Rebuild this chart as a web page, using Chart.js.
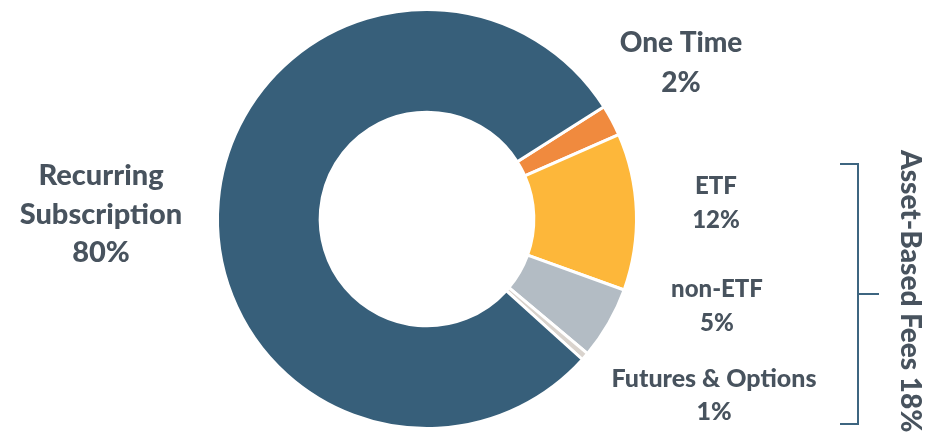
<!DOCTYPE html>
<html>
<head>
<meta charset="utf-8">
<script src="https://cdn.jsdelivr.net/npm/chart.js@4"></script>
<style>
  html, body { margin: 0; padding: 0; background: #fff; }
  #wrap { width: 928px; height: 439px; position: relative; }
</style>
</head>
<body>
<div id="wrap"><canvas id="revenueChart" width="928" height="439"></canvas></div>
<script>
// Revenue mix, clockwise from the top right
const categories = ['One Time', 'ETF', 'non-ETF', 'Futures & Options', 'Recurring Subscription'];
const sliceValues = [2.4, 12.1, 5.6, 0.6, 79.3];
const percentLabels = ['2%', '12%', '5%', '1%', '80%'];
const sliceColors = ['#F08A3E', '#FDB73A', '#B3BCC4', '#D9D3CD', '#375F7A'];
const groupTitle = 'Asset-Based Fees 18%';

const textColor = '#48535E';
const fontFamily = 'Lato, "Open Sans", sans-serif';

// labels are drawn by hand next to the slices
const labelPlugin = {
    id: 'sliceLabels',
    afterDraw(chart) {
        const ctx = chart.ctx;
        ctx.save();
        ctx.fillStyle = textColor;
        ctx.textAlign = 'center';
        ctx.textBaseline = 'alphabetic';

        function lines(text, x, baselines, size) {
            ctx.font = '900 ' + size + 'px ' + fontFamily;
            text.forEach((t, i) => ctx.fillText(t, x, baselines[i]));
        }

        lines([categories[0], percentLabels[0]], 681, [52, 92], 28);
        lines(['Recurring', 'Subscription', percentLabels[4]], 101, [185, 224, 262], 29);
        lines([categories[1], percentLabels[1]], 716, [194, 228], 24);
        lines([categories[2], percentLabels[2]], 717, [297, 331], 24);
        lines([categories[3], percentLabels[3]], 714, [387, 420], 25);

        // bracket for the asset-based group
        ctx.strokeStyle = '#3D6580';
        ctx.lineWidth = 2;
        ctx.beginPath();
        ctx.moveTo(840, 164);
        ctx.lineTo(858, 164);
        ctx.lineTo(858, 424);
        ctx.lineTo(840, 424);
        ctx.moveTo(858, 294);
        ctx.lineTo(879, 294);
        ctx.stroke();

        // rotated group title
        ctx.translate(901, 150);
        ctx.rotate(Math.PI / 2);
        ctx.textAlign = 'left';
        ctx.font = '900 28px ' + fontFamily;
        ctx.fillText(groupTitle, 0, 0);
        ctx.restore();
    }
};

const revenueCtx = document.getElementById('revenueChart').getContext('2d');
const revenueChart = new Chart(revenueCtx, {
    type: 'doughnut',
    data: {
        labels: categories,
        datasets: [{
            data: sliceValues,
            backgroundColor: sliceColors,
            borderColor: '#ffffff',
            borderWidth: 3
        }]
    },
    options: {
        responsive: false,
        animation: false,
        rotation: 57.6,
        cutout: '51%',
        layout: {
            padding: { left: 216, right: 290, top: 8, bottom: 9 }
        },
        plugins: {
            legend: { display: false },
            tooltip: { enabled: false }
        }
    },
    plugins: [labelPlugin]
});
</script>
</body>
</html>
